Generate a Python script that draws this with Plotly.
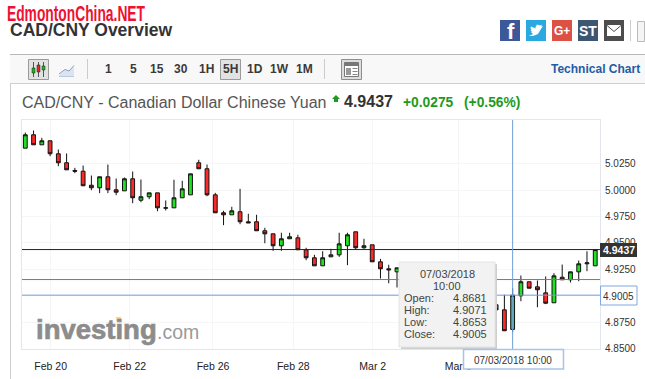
import plotly.graph_objects as go

W, H = 645, 379
FONT = "Liberation Sans"

# candle index, OHLC (candles 47-57 are hidden by the tooltip)
idx = list(range(1, 47)) + list(range(58, 71))
open_ = [5.0397,5.0524,5.0429,5.0467,5.0344,5.0259,5.0186,5.0179,5.0046,5.0022,5.0126,5.0003,4.9993,5.0107,4.9904,4.9937,
         4.9974,4.9829,4.9832,4.9927,4.9955,5.0259,5.0202,4.9955,4.9785,4.9766,4.9795,4.9700,4.9700,4.9615,
         4.9586,4.9473,4.9539,4.9548,4.9435,4.9359,4.9283,4.9368,4.9387,4.9473,4.9605,4.9454,4.9482,4.9321,4.9255,4.9226,
         4.8914,4.8866,4.8681,4.8999,4.9132,4.9084,4.9027,4.8933,4.9175,4.9151,4.9226,4.9302,4.9283]
high = [5.0545,5.0564,5.0495,5.0467,5.0384,5.0347,5.0211,5.0233,5.0138,5.0126,5.0242,5.0110,5.0119,5.0176,5.0100,4.9974,
        4.9974,4.9902,5.0098,5.0088,5.0154,5.0287,5.0242,4.9974,4.9804,4.9842,5.0012,4.9776,4.9766,4.9643,
        4.9586,4.9596,4.9596,4.9577,4.9454,4.9387,4.9421,4.9444,4.9596,4.9596,4.9605,4.9539,4.9482,4.9349,4.9293,4.9264,
        4.8914,4.9009,4.9071,4.9191,4.9132,4.9144,4.9182,4.9213,4.9295,4.9226,4.9333,4.9421,4.9438]
low = [5.0397,5.0429,5.0429,5.0321,5.0226,5.0192,5.0160,5.0041,4.9999,4.9971,4.9971,4.9952,4.9993,4.9876,4.9885,4.9914,
       4.9800,4.9807,4.9832,4.9927,4.9955,5.0202,4.9942,4.9785,4.9668,4.9766,4.9677,4.9690,4.9615,4.9497,
       4.9425,4.9425,4.9539,4.9435,4.9336,4.9283,4.9283,4.9368,4.9368,4.9289,4.9435,4.9444,4.9321,4.9163,4.9118,4.9078,
       4.8829,4.8668,4.8653,4.8948,4.9071,4.8891,4.8920,4.8933,4.9151,4.9125,4.9137,4.9232,4.9283]
close = [5.0524,5.0429,5.0467,5.0344,5.0259,5.0192,5.0179,5.0041,5.0022,5.0126,5.0003,4.9980,5.0107,4.9927,4.9937,4.9974,
         4.9832,4.9832,4.9927,5.0012,5.0154,5.0202,4.9955,4.9785,4.9766,4.9804,4.9700,4.9690,4.9615,4.9586,
         4.9473,4.9539,4.9558,4.9435,4.9359,4.9283,4.9359,4.9387,4.9491,4.9577,4.9454,4.9473,4.9321,4.9255,4.9245,4.9264,
         4.8866,4.8668,4.9005,4.9132,4.9071,4.9056,4.8929,4.9188,4.9151,4.9226,4.9302,4.9311,4.9437]

y_ticks = [4.85, 4.875, 4.90, 4.925, 4.95, 4.975, 5.00, 5.025]
y_labels = ["4.8500", "4.8750", "4.9000", "4.9250", "4.9500", "4.9750", "5.0000", "5.0250"]
x_tick_pos = [4.07, 13.64, 23.72, 33.44, 43.06, 53.4]
x_tick_labels = ["Feb 20", "Feb 22", "Feb 26", "Feb 28", "Mar 2", "Mar 6"]
last_price = 4.9437
prev_line = 4.9153
cross_price = 4.9005
cross_idx = 60
tooltip_rows = [("Open:", "4.8681"), ("High:", "4.9071"), ("Low:", "4.8653"), ("Close:", "4.9005")]
toolbar_labels = [("1", 108), ("5", 133), ("15", 157), ("30", 181), ("1H", 206), ("5H", 230), ("1D", 255), ("1W", 279), ("1M", 304)]

PL, PR, PT, PB = 22, 600, 120, 349
S = 8.26
x_range = [1 - (25.3 - PL) / S, 1 + (PR - 25.3) / S]
y_range = [4.85 - 0.5 / 1056, 4.85 + (348.5 - PT) / 1056]

def X(x): return x / W
def Y(y): return 1 - y / H

shapes, annos = [], []

def rect(x0, y0, x1, y1, fill="rgba(0,0,0,0)", line=None, lw=1, layer="above"):
    shapes.append(dict(type="rect", xref="paper", yref="paper", x0=X(x0), x1=X(x1), y0=Y(y0), y1=Y(y1),
                       fillcolor=fill, line=dict(color=line or "rgba(0,0,0,0)", width=lw if line else 0), layer=layer))

def seg(x0, y0, x1, y1, color, lw=1, layer="above"):
    shapes.append(dict(type="line", xref="paper", yref="paper", x0=X(x0), x1=X(x1), y0=Y(y0), y1=Y(y1),
                       line=dict(color=color, width=lw), layer=layer))

def poly(pts, fill, line=None, lw=1):
    d = "M" + " L".join(f"{X(a):.5f},{Y(b):.5f}" for a, b in pts) + (" Z" if fill != "none" else "")
    shapes.append(dict(type="path", xref="paper", yref="paper", path=d,
                       fillcolor=fill if fill != "none" else "rgba(0,0,0,0)",
                       line=dict(color=line or "rgba(0,0,0,0)", width=lw if line else 0), layer="above"))

def text(x, y, s, size=12, color="#333333", bold=False, anchor="left", family=FONT):
    annos.append(dict(xref="paper", yref="paper", x=X(x), y=Y(y), text=s,
                      showarrow=False, xanchor=anchor, yanchor="middle", borderpad=0, borderwidth=0,
                      font=dict(family=family, size=size, color=color, weight=700 if bold else 400)))

# panel frame and toolbar
seg(10.5, 54, 10.5, 379, "#cccccc", 1, "below")
rect(10, 54, 645, 83, "#f8f8f8", None, layer="below")
seg(10, 54.5, 645, 54.5, "#b8b8b8", 1)
seg(10, 83.5, 645, 83.5, "#cfcfcf", 1)
seg(87.5, 59, 87.5, 79, "#cccccc", 1)
seg(324.5, 59, 324.5, 79, "#cccccc", 1)
seg(22, 119.5, 600, 119.5, "#e6e6e6", 1)

# toolbar buttons
rect(28.5, 59.5, 48.5, 79.5, "#e2e2e2", "#9a9a9a", 1)
for xx in (33.5, 38.5, 43.5):
    seg(xx, 62, xx, 77, "#555555", 1)
rect(32, 68, 35, 73, "#22b222", "#222222", 0.5)
rect(37, 65, 40, 72, "#e02828", "#222222", 0.5)
rect(42, 66, 45, 70, "#22b222", "#222222", 0.5)
poly([(59, 75), (65, 70), (69, 71), (74, 66), (74, 76), (59, 76)], "#dbe5f2", None)
poly([(59, 74), (65, 69.5), (69, 71), (74, 65.5)], "none", "#7d9fc9", 1)
seg(59, 76.5, 74, 76.5, "#b8c8de", 1)
rect(220.5, 59.5, 240.5, 79.5, "#e2e2e2", "#9a9a9a", 1)
for s, xx in toolbar_labels:
    text(xx, 69, s, 12, "#3a3a3a", True, "center")
rect(341.5, 59.5, 361.5, 79.5, "#dddddd", "#8f8f8f", 1)
rect(344.5, 62.5, 358.5, 76.5, "#ffffff", "#777777", 1)
rect(345, 63, 358, 66, "#777777")
rect(346, 68, 351, 75, "#999999")
for yy in (68.5, 71.5, 74.5):
    seg(352.5, yy, 357.5, yy, "#888888", 1)
text(551, 69, "Technical Chart", 12, "#1f5ca6", True)

# social icons
rect(500, 20, 520, 41, "#3b5998")
text(511, 32, "f", 22, "#ffffff", True, "center")
rect(526, 20, 546, 41, "#2aa9e0")
poly([(529, 36), (533, 36), (538, 34), (541, 29), (543, 26), (541, 26.5), (542, 24.5), (540, 25.5), (537, 24.5), (535.5, 27),
      (535.5, 28.5), (531, 26.5), (530.5, 28), (531.5, 30), (530.5, 30), (532, 32), (531, 32), (533, 34)], "#ffffff")
rect(552, 20, 572, 41, "#dd5044")
text(562, 31, "G+", 12, "#ffffff", True, "center")
rect(578, 20, 598, 41, "#3d5672")
text(588, 31, "ST", 14, "#ffffff", True, "center")
rect(604, 20, 624, 41, "#4d4d4d")
rect(607, 25, 621, 36, "#ffffff")
poly([(607, 25.5), (614, 31.5), (621, 25.5)], "none", "#4d4d4d", 1)
seg(630.5, 20, 630.5, 41, "#cccccc", 1)
rect(637.5, 21.5, 644.5, 41.5, "#f4f4f4", "#bbbbbb", 1)

# headings
text(76, 14, "EdmontonChina.NET", 22, "#ee1133", True, "center")
text(10, 29.5, "CAD/CNY Overview", 17.5, "#333333", True)
text(22, 102, "CAD/CNY - Canadian Dollar Chinese Yuan", 16, "#555555")
poly([(332, 99), (336, 95), (340, 99), (338, 99), (338, 102), (334, 102), (334, 99)], "#1e9a1e")
text(344, 101.5, f"{last_price:.4f}", 16, "#333333", True)
text(403, 102, "+0.0275", 13.8, "#1e9a1e", True)
text(464, 102, "(+0.56%)", 13.8, "#1e9a1e", True)

# logo
text(36, 329, "investing", 27.5, "#8c8c8c", True)
text(157, 332, ".com", 19.5, "#9a9a9a")
rect(116, 317, 121, 321, "#fdd28a")

# data-driven lines
shapes.append(dict(type="line", xref="paper", yref="y", x0=X(PL), x1=X(PR), y0=prev_line, y1=prev_line,
                   line=dict(color="#d9534f", width=1), layer="above"))
shapes.append(dict(type="line", xref="paper", yref="y", x0=X(PL), x1=X(PR), y0=last_price, y1=last_price,
                   line=dict(color="#222222", width=1), layer="above"))
shapes.append(dict(type="line", xref="paper", yref="y", x0=X(PL), x1=X(PR), y0=cross_price, y1=cross_price,
                   line=dict(color="#6f9fd8", width=1), layer="above"))
shapes.append(dict(type="line", xref="x", yref="paper", x0=cross_idx, x1=cross_idx, y0=Y(PB), y1=Y(PT),
                   line=dict(color="#6f9fd8", width=1), layer="above"))

# tooltip
rect(401, 264, 497, 349, "#cfcfcf")
rect(399, 262, 495, 347, "#f2f2f2", "#e4e4e4", 1)
text(447, 274, "07/03/2018", 11, "#444444", anchor="center")
text(447, 286, "10:00", 11, "#444444", anchor="center")
for i, (a, b) in enumerate(tooltip_rows):
    text(404, 298 + 12 * i, a, 11, "#444444")
    text(487, 298 + 12 * i, b, 11, "#444444", anchor="right")

# axis flags
rect(600, 243, 637, 257, "#333333")
text(618.5, 250, f"{last_price:.4f}", 10.5, "#ffffff", True, "center")
rect(600.5, 286, 637, 305, "#ffffff", "#7fa8dc", 1)
text(618.5, 296, f"{cross_price:.4f}", 10, "#333333", anchor="center")
rect(463.5, 349.5, 563.5, 369, "#ffffff", "#a9c3e6", 1.5)
text(513, 360, "07/03/2018 10:00", 10, "#333333", anchor="center")

fig = go.Figure(go.Candlestick(
    x=idx, open=open_, high=high, low=low, close=close, whiskerwidth=0,
    increasing=dict(fillcolor="#22e022", line=dict(color="#111111", width=1)),
    decreasing=dict(fillcolor="#fa2a2a", line=dict(color="#111111", width=1)),
    hoverinfo="skip", showlegend=False))

fig.update_layout(
    width=W, height=H, autosize=False, margin=dict(l=0, r=0, t=0, b=0, pad=0, autoexpand=False),
    boxgap=0.32, boxgroupgap=0.32,
    paper_bgcolor="#ffffff", plot_bgcolor="#ffffff", showlegend=False,
    font=dict(family=FONT, size=10, color="#333333"),
    shapes=shapes, annotations=annos,
    xaxis=dict(domain=[X(PL), X(PR)], range=x_range, rangeslider=dict(visible=False),
               tickmode="array", tickvals=x_tick_pos, ticktext=x_tick_labels, showgrid=True,
               gridcolor="#f6f6f8", zeroline=False, showline=True, linecolor="#e4e6ee", mirror=True,
               ticks="outside", ticklen=7, tickcolor="rgba(0,0,0,0)", tickfont=dict(size=10.5, color="#222222")),
    yaxis=dict(domain=[Y(PB), Y(PT)], range=y_range, side="right", tickmode="array", tickvals=y_ticks,
               ticktext=y_labels, showgrid=True, gridcolor="#f6f6f8", zeroline=False, showline=True,
               linecolor="#e4e6ee", mirror=True, ticks="outside", ticklen=2, tickcolor="rgba(0,0,0,0)",
               tickfont=dict(size=10, color="#333333")),
)

fig.write_html("out.html", config=dict(displayModeBar=False), post_script="""
document.body.style.margin='0';
document.querySelectorAll('.annotation-text').forEach(function(t){
  if(t.textContent.indexOf('Edmonton')===0){t.setAttribute('textLength','138');t.setAttribute('lengthAdjust','spacingAndGlyphs');}
  if(t.textContent==='investing'){t.style.stroke='#8c8c8c';t.style.strokeWidth='0.7px';}
});
""")
